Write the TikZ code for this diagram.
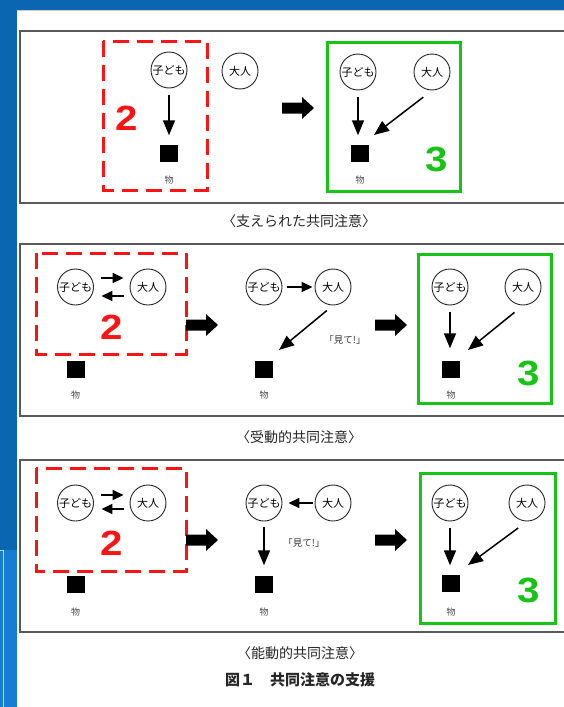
\documentclass[tikz,border=0pt]{standalone}
\usepackage{fontspec}
\setmainfont{Liberation Sans}
\newfontfamily\cjk{Noto Sans CJK JP}
\usetikzlibrary{arrows.meta}
\definecolor{frameblue}{RGB}{10,102,176}
\definecolor{lightblue}{RGB}{22,124,212}
\definecolor{myred}{RGB}{250,20,20}
\definecolor{mygreen}{RGB}{22,196,22}
\begin{document}
\begin{tikzpicture}[x=1pt,y=-1pt,
  person/.style={circle,draw=black!85,line width=0.9pt,minimum size=36pt,inner sep=0pt,
    font=\cjk\fontsize{11}{11}\selectfont},
  thing/.style={fill=black,minimum width=18pt,minimum height=17pt,inner sep=0pt},
  lbl/.style={font=\cjk\fontsize{9}{9}\selectfont,text=black!70},
  arr/.style={line width=1.5pt,-{Triangle[length=15pt,width=12pt]}},
  sarr/.style={line width=1.6pt,-{Triangle[length=11pt,width=10pt]}},
  panel/.style={draw=black!65,line width=1.2pt},
  redbox/.style={draw=myred,line width=3pt,dash pattern=on 16pt off 8pt},
  greenbox/.style={draw=mygreen,line width=3pt},
  numred/.style={text=myred,font=\fontsize{35}{35}\selectfont\bfseries},
  numgreen/.style={text=mygreen,font=\fontsize{35}{35}\selectfont\bfseries},
  caption/.style={font=\cjk\fontsize{14}{14}\selectfont,text=black!85},
  say/.style={font=\cjk\fontsize{9.5}{9.5}\selectfont,text=black!80},
  fatarrow/.pic={\fill (-16,-5.5) -- (4,-5.5) -- (4,-11) -- (16,0) -- (4,11) -- (4,5.5) -- (-16,5.5) -- cycle;}
]
\useasboundingbox (0,0) rectangle (564,707);
\clip (0,0) rectangle (564,707);
% background frame
\fill[frameblue] (0,0) rectangle (564,707);
\fill[lightblue] (0,550) rectangle (17,707);
\draw[white!70!lightblue,line width=0.6pt] (0,550) -- (3,550) -- (3,707);
\fill[white] (17,10) rectangle (564,707);
\draw[black!20,line width=0.6pt] (17,10) -- (564,10);

% ================= Panel 1 =================
\draw[panel] (20,31) rectangle (600,203);
\draw[redbox] (103,41) rectangle (207,190);
\draw[greenbox] (327,42) rectangle (460,191);
\node[numred] (n2a) at (127,118) {\scalebox{1.15}[1]{2}};
\node[numgreen] (n3a) at (437,159) {\scalebox{1.15}[1]{3}};

\node[person] (k1) at (169,70) {子ども};
\node[person] (o1) at (240,71) {大人};
\node[thing] (s1) at (169,153) {};
\node[lbl] (m1) at (169,180) {物};
\draw[arr,shorten <=7pt,shorten >=9pt] (k1) -- (s1);

\pic at (298,108) {fatarrow};

\node[person] (k1b) at (358,72) {子ども};
\node[person] (o1b) at (432,72) {大人};
\node[thing] (s1b) at (360,153) {};
\node[lbl] (m1b) at (360,180) {物};
\coordinate (t1b) at (374,135);
\draw[arr,shorten <=7pt,shorten >=9pt] (k1b) -- (k1b |- s1b.north);
\draw[arr,shorten <=11pt] (o1b.south) -- (t1b);

\node[caption] (cap1) at (299,221) {〈支えられた共同注意〉};

% ================= Panel 2 =================
\draw[panel] (20,244) rectangle (600,416);
\draw[redbox] (36,253) rectangle (186,354);
\draw[greenbox] (418,254) rectangle (551,403);
\node[numred] (n2b) at (112,327) {\scalebox{1.15}[1]{2}};
\node[numgreen] (n3b) at (529,373) {\scalebox{1.15}[1]{3}};

\node[person] (k2) at (75.5,287) {子ども};
\node[person] (o2) at (148,287) {大人};
\node[thing] (s2) at (75.5,369) {};
\node[lbl] (m2) at (75.5,395) {物};
\draw[sarr,shorten <=7.5pt,shorten >=6pt] ([yshift=9pt]k2.east) -- ([yshift=9pt]o2.west);
\draw[sarr,shorten <=6pt,shorten >=7.5pt] ([yshift=-9pt]o2.west) -- ([yshift=-9pt]k2.east);

\pic at (202,325) {fatarrow};

\node[person] (k2m) at (264,287) {子ども};
\node[person] (o2m) at (333,287) {大人};
\node[thing] (s2m) at (264,369) {};
\node[lbl] (m2m) at (264,395) {物};
\coordinate (t2m) at (279,350);
\draw[sarr,shorten <=5pt,shorten >=2pt] (k2m) -- (o2m);
\draw[arr,shorten <=8pt] (o2m.south) -- (t2m);
\node[say] (say2) at (345,340) {「見て!」};

\pic at (391,325) {fatarrow};

\node[person] (k2r) at (450,287) {子ども};
\node[person] (o2r) at (523,287) {大人};
\node[thing] (s2r) at (451,369) {};
\node[lbl] (m2r) at (451,395) {物};
\coordinate (t2r) at (468,350);
\draw[arr,shorten <=7pt,shorten >=12pt] (k2r) -- (k2r |- s2r.north);
\draw[arr,shorten <=11pt] (o2r.south) -- (t2r);

\node[caption] (cap2) at (299,437) {〈受動的共同注意〉};

% ================= Panel 3 =================
\draw[panel] (20,460) rectangle (600,632);
\draw[redbox] (36,468) rectangle (186,571);
\draw[greenbox] (420,473) rectangle (555,623);
\node[numred] (n2c) at (112,543) {\scalebox{1.15}[1]{2}};
\node[numgreen] (n3c) at (529,590) {\scalebox{1.15}[1]{3}};

\node[person] (k3) at (75.5,503) {子ども};
\node[person] (o3) at (148,503) {大人};
\node[thing] (s3) at (75.5,584) {};
\node[lbl] (m3) at (75.5,612) {物};
\draw[sarr,shorten <=7.5pt,shorten >=6pt] ([yshift=8pt]k3.east) -- ([yshift=8pt]o3.west);
\draw[sarr,shorten <=6pt,shorten >=7.5pt] ([yshift=-6pt]o3.west) -- ([yshift=-6pt]k3.east);

\pic at (202,540) {fatarrow};

\node[person] (k3m) at (264,503) {子ども};
\node[person] (o3m) at (333,503) {大人};
\node[thing] (s3m) at (264,584) {};
\node[lbl] (m3m) at (264,612) {物};
\draw[sarr,shorten <=2pt,shorten >=6pt] (o3m) -- (k3m);
\draw[arr,shorten <=6pt,shorten >=10pt] (k3m) -- (s3m);
\node[say] (say3) at (304,543) {「見て!」};

\pic at (391,540) {fatarrow};

\node[person] (k3r) at (450,503) {子ども};
\node[person] (o3r) at (527,503) {大人};
\node[thing] (s3r) at (451,583) {};
\node[lbl] (m3r) at (451,612) {物};
\coordinate (t3r) at (468,565);
\draw[arr,shorten <=7pt,shorten >=9pt] (k3r) -- (k3r |- s3r.north);
\draw[arr,shorten <=11pt] (o3r.south) -- (t3r);

\node[caption] (cap3) at (300,653) {〈能動的共同注意〉};
\node[caption,font=\cjk\bfseries\fontsize{15}{15}\selectfont] (title) at (300,680) {図１　共同注意の支援};
\end{tikzpicture}
\end{document}
